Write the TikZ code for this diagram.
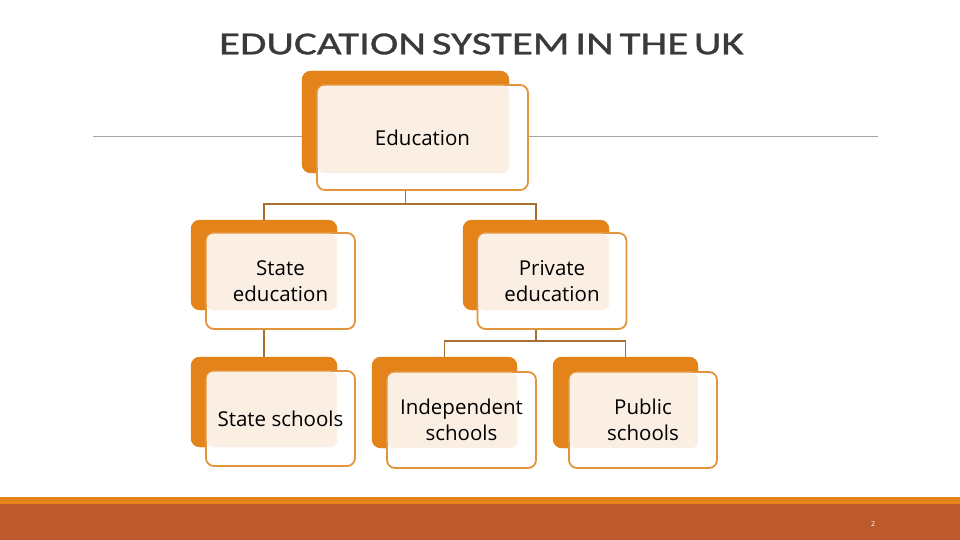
\documentclass[tikz,border=0pt]{standalone}
\usepackage{fontspec}
\setmainfont{Open Sans}
\newfontfamily\titlefont[FakeStretch=1.34, FakeBold=1.1, WordSpace=0.6]{Carlito}
\definecolor{backor}{HTML}{E4831A}
\definecolor{frontor}{HTML}{E2953A}
\definecolor{cream}{HTML}{FBEFE4}
\definecolor{conn}{HTML}{A86F30}
\definecolor{rust}{HTML}{BD5A2B}
\definecolor{stripe}{HTML}{E3831A}
\definecolor{titlegray}{HTML}{3A3A3A}
\definecolor{rulegray}{HTML}{A5A5A5}
\begin{document}
\begin{tikzpicture}[x=1pt,y=-1pt,
  backbox/.style={fill=backor, rounded corners=9pt, inner sep=0pt},
  frontbox/.style={fill=white, draw=frontor, line width=1.8pt, rounded corners=8pt, inner sep=0pt},
  creambox/.style={fill=cream, rounded corners=7pt},
  lbl/.style={align=center, font=\fontsize{20.5}{26}\selectfont, text=black, inner sep=0pt},
  link/.style={draw=conn, line width=1.8pt},
  grayrule/.style={draw=rulegray, line width=0.8pt}]
\useasboundingbox (0,0) rectangle (960,540);
% footer
\fill[stripe] (0,497) rectangle (960,504);
\fill[rust] (0,504) rectangle (960,540);
\node[text=white, font=\fontsize{7}{8}\selectfont] (pg) at (873,524) {2};
% title
\node[font=\titlefont\fontsize{32}{36}\selectfont, text=titlegray] (title) at (481.5,44) {EDUCATION SYSTEM IN THE UK};
% back boxes
\node[backbox, minimum width=207pt, minimum height=102pt] (eduB) at (405.5,122) {};
\node[backbox, minimum width=146pt, minimum height=90pt] (steB) at (264,265) {};
\node[backbox, minimum width=146pt, minimum height=90pt] (prvB) at (536,265) {};
\node[backbox, minimum width=146pt, minimum height=90pt] (stsB) at (264,402) {};
\node[backbox, minimum width=145pt, minimum height=91pt] (indB) at (444.5,402.5) {};
\node[backbox, minimum width=145pt, minimum height=91pt] (pubB) at (625.5,402.5) {};
% gray rules
\draw[grayrule] (93,136) -- (eduB.west |- 0,136);
\coordinate (ruleR) at (878,136);
% connectors
\draw[link] (eduB.south) -- (eduB.south |- 0,204) -| (steB.north);
\draw[link] (eduB.south |- 0,204) -| (prvB.north);
\draw[link] (steB.south) -- (stsB.north);
\draw[link] (prvB.south) -- (prvB.south |- 0,341) -| (indB.north);
\draw[link] (prvB.south |- 0,341) -| (pubB.north);
% redraw back boxes over connector starts
\foreach \b in {eduB,steB,prvB,stsB,indB,pubB}{\fill[backor, rounded corners=9pt] (\b.north west) rectangle (\b.south east);}
% front boxes
\node[frontbox, minimum width=211pt, minimum height=105pt] (eduF) at (422.5,137.5) {};
\node[frontbox, minimum width=149pt, minimum height=96pt] (steF) at (280.5,281) {};
\node[frontbox, minimum width=149pt, minimum height=96pt] (prvF) at (552,281) {};
\node[frontbox, minimum width=149pt, minimum height=95pt] (stsF) at (280.5,418.5) {};
\node[frontbox, minimum width=149pt, minimum height=96pt] (indF) at (461.5,420) {};
\node[frontbox, minimum width=148pt, minimum height=96pt] (pubF) at (643,420) {};
\draw[grayrule] (eduF.east |- 0,136) -- (ruleR);
% cream text areas
\foreach \f/\b in {eduF/eduB,steF/steB,prvF/prvB,stsF/stsB,indF/indB,pubF/pubB}{
  \fill[creambox] ([shift={(1.5,1.5)}]\f.north west) rectangle (\b.south east);}
% labels
\node[lbl] (eduT) at (eduF.center) {Education};
\node[lbl] (steT) at (steF.center) {State\\education};
\node[lbl] (prvT) at (prvF.center) {Private\\education};
\node[lbl] (stsT) at (stsF.center) {State schools};
\node[lbl] (indT) at (indF.center) {Independent\\schools};
\node[lbl] (pubT) at (pubF.center) {Public\\schools};
\end{tikzpicture}
\end{document}
